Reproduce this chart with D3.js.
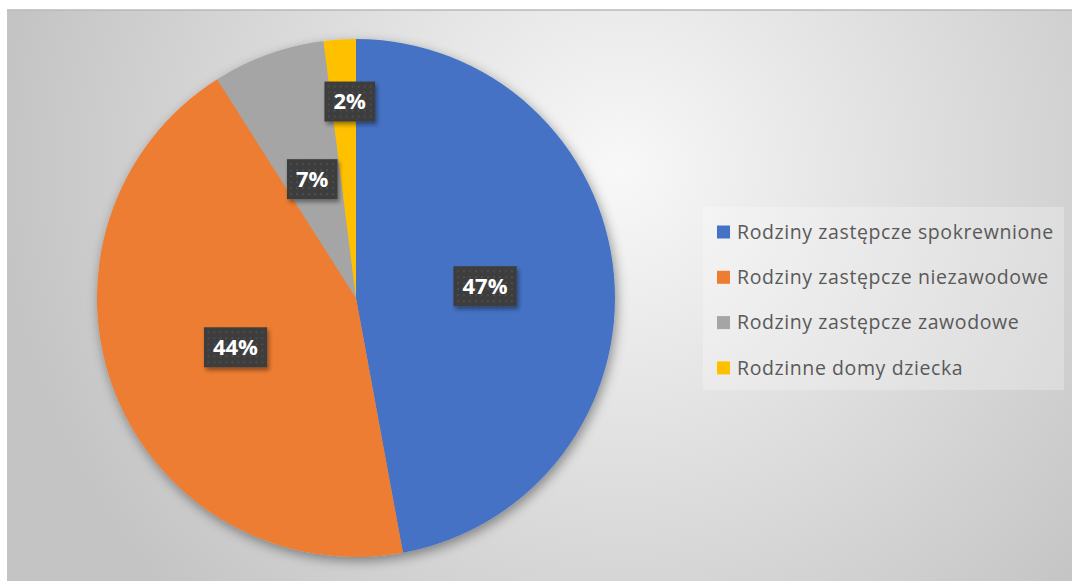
<!DOCTYPE html>
<html>
<head>
<meta charset="utf-8">
<script src="https://cdn.jsdelivr.net/npm/d3@7"></script>
<style>
  html, body { margin: 0; padding: 0; background: #fff; }
  svg { display: block; }
</style>
</head>
<body>
<svg width="1072" height="583"></svg>
<script>
var categories = ["Rodziny zastępcze spokrewnione", "Rodziny zastępcze niezawodowe", "Rodziny zastępcze zawodowe", "Rodzinne domy dziecka"];
var values = [47.1, 43.9, 7.0, 2.0];
var labels = ["47%", "44%", "7%", "2%"];
var colors = ["#4472C4", "#ED7D31", "#A5A5A5", "#FFC000"];

var svg = d3.select("svg");
var width = +svg.attr("width");
var height = +svg.attr("height");

var defs = svg.append("defs");

var bg = defs.append("radialGradient")
  .attr("id", "bg")
  .attr("gradientUnits", "userSpaceOnUse")
  .attr("cx", 620).attr("cy", 170).attr("r", 620);
bg.append("stop").attr("offset", "0%").attr("stop-color", "#f8f8f8");
bg.append("stop").attr("offset", "100%").attr("stop-color", "#c4c4c4");

var shadow = defs.append("filter").attr("id", "shadow")
  .attr("x", "-20%").attr("y", "-20%").attr("width", "140%").attr("height", "140%");
shadow.append("feDropShadow")
  .attr("dx", 2).attr("dy", 4).attr("stdDeviation", 6)
  .attr("flood-color", "#000").attr("flood-opacity", 0.4);

var boxShadow = defs.append("filter").attr("id", "boxShadow")
  .attr("x", "-30%").attr("y", "-30%").attr("width", "160%").attr("height", "170%");
boxShadow.append("feDropShadow")
  .attr("dx", 2).attr("dy", 3).attr("stdDeviation", 2)
  .attr("flood-color", "#000").attr("flood-opacity", 0.4);

var dots = defs.append("pattern").attr("id", "dots")
  .attr("patternUnits", "userSpaceOnUse").attr("width", 6).attr("height", 6);
dots.append("rect").attr("width", 6).attr("height", 6).attr("fill", "#3c3c3c");
dots.append("rect").attr("x", 2).attr("y", 2).attr("width", 2).attr("height", 2).attr("fill", "#4d4d4d");

// chart area
svg.append("rect")
  .attr("x", 7).attr("y", 10)
  .attr("width", width - 7).attr("height", 571)
  .attr("fill", "url(#bg)");
svg.append("line")
  .attr("x1", 7).attr("x2", width).attr("y1", 10).attr("y2", 10)
  .attr("stroke", "#b8b8b8").attr("stroke-width", 1.5);

var cx = 356, cy = 298, radius = 259;

var pie = d3.pie().sort(null).value(function(d) { return d; });
var arcs = pie(values);
var arc = d3.arc().innerRadius(0).outerRadius(radius);

var g = svg.append("g").attr("transform", "translate(" + cx + "," + cy + ")");

g.append("g").attr("filter", "url(#shadow)")
  .selectAll("path")
  .data(arcs).enter()
  .append("path")
  .attr("d", arc)
  .attr("fill", function(d, i) { return colors[i]; });

// label placement: fraction of radius, plus nudge for the thin slices
var labelR = [0.5, 0.5, 0.5, 0.76];
var labelShift = [[0, 0], [0, 2], [0, 3], [6, 0]];

var lab = g.selectAll("g.lab")
  .data(arcs).enter()
  .append("g")
  .attr("class", "lab")
  .attr("transform", function(d, i) {
    var a = (d.startAngle + d.endAngle) / 2;
    var r = radius * labelR[i];
    var x = Math.sin(a) * r + labelShift[i][0];
    var y = -Math.cos(a) * r + labelShift[i][1];
    return "translate(" + x + "," + y + ")";
  });

lab.append("text")
  .attr("text-anchor", "middle")
  .attr("dy", "0.36em")
  .attr("fill", "#fff")
  .attr("font-family", "'Open Sans', sans-serif")
  .attr("font-weight", "bold")
  .attr("font-size", 22)
  .text(function(d, i) { return labels[i]; });

lab.each(function() {
  var el = d3.select(this);
  var t = el.select("text").node().getBBox();
  var padX = 9, h = 40;
  el.insert("rect", "text")
    .attr("x", t.x - padX).attr("y", -h / 2)
    .attr("width", t.width + padX * 2).attr("height", h)
    .attr("fill", "url(#dots)")
    .attr("filter", "url(#boxShadow)");
});

// legend
var legend = svg.append("g").attr("transform", "translate(703,207)");
legend.append("rect")
  .attr("width", 361).attr("height", 183)
  .attr("fill", "#fff").attr("fill-opacity", 0.25);

var item = legend.selectAll("g.item")
  .data(categories).enter()
  .append("g")
  .attr("class", "item")
  .attr("transform", function(d, i) { return "translate(0," + (25 + i * 45.3) + ")"; });

item.append("rect")
  .attr("x", 14).attr("y", -6.5)
  .attr("width", 13).attr("height", 13)
  .attr("fill", function(d, i) { return colors[i]; });

item.append("text")
  .attr("x", 34)
  .attr("dy", "0.35em")
  .attr("fill", "#595959")
  .attr("font-family", "'Open Sans', sans-serif")
  .attr("font-size", 19.5)
  .attr("letter-spacing", 0.6)
  .text(function(d) { return d; });
</script>
</body>
</html>
